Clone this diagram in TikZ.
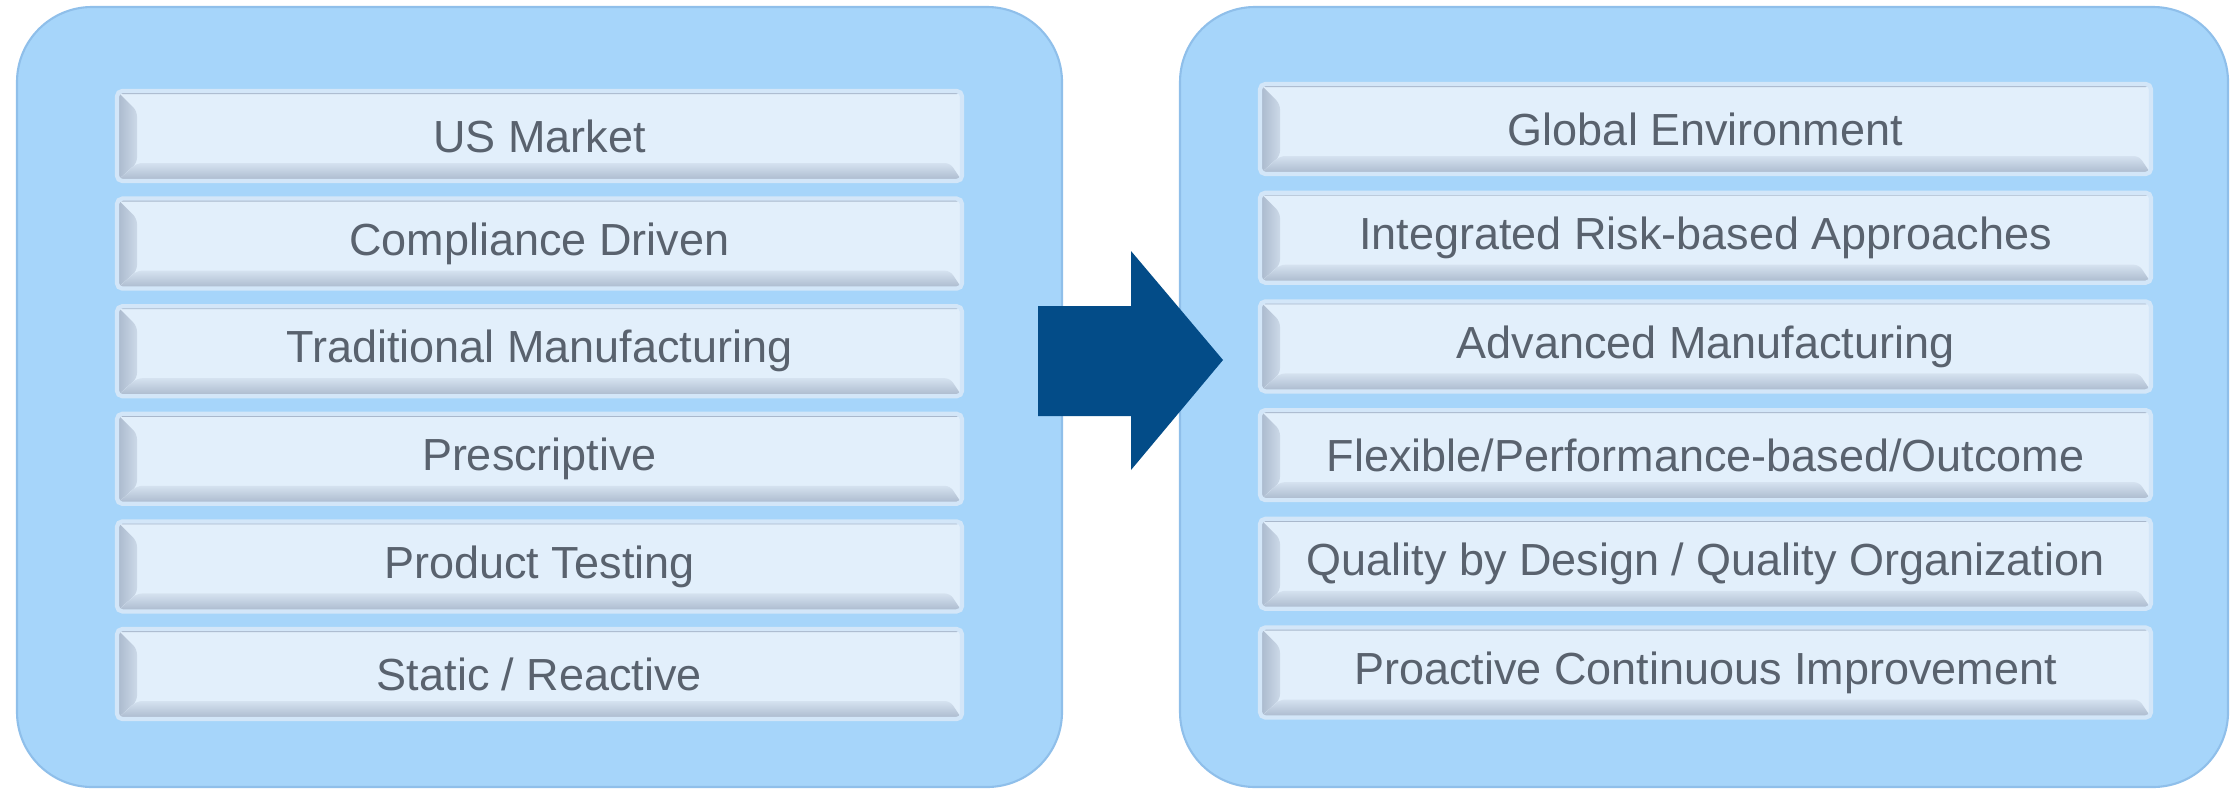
\documentclass[tikz,border=0pt]{standalone}
\usepackage{fontspec}
\setmainfont{Liberation Sans}
\usetikzlibrary{calc,shapes}
\definecolor{panelblue}{HTML}{A6D5FA}
\definecolor{paneledge}{HTML}{8FBFEA}
\definecolor{barface}{HTML}{E2EFFB}
\definecolor{baredge}{HTML}{D3E6F8}
\definecolor{bevdark}{HTML}{A9B8CC}
\definecolor{bevlight}{HTML}{CCD9E8}
\definecolor{bartext}{HTML}{59626E}
\definecolor{arrowblue}{HTML}{034C88}

\begin{document}
\begin{tikzpicture}[panel/.style={rounded corners=0.75cm, fill=panelblue, draw=paneledge, line width=0.6pt, inner sep=0pt, minimum width=10.45cm, minimum height=7.80cm},
  bar/.style={rectangle, rounded corners=1.5pt, fill=barface, draw=baredge, line width=1.2pt, minimum height=0.90cm, inner sep=0pt, text=bartext, font=\fontsize{12.8}{15}\selectfont,
    path picture={
      \fill[bevdark] (path picture bounding box.north west) rectangle ($(path picture bounding box.north east)+(0,-0.03)$);
      \fill[left color=bevdark, right color=bevlight] (path picture bounding box.north west) -- ++(0.2,-0.2) -- ($(path picture bounding box.south west)+(0.2,0.18)$) -- (path picture bounding box.south west) -- cycle;
      \fill[top color=bevlight!60!barface, bottom color=bevdark] (path picture bounding box.south west) -- ++(0.2,0.18) -- ($(path picture bounding box.south east)+(-0.12,0.18)$) -- (path picture bounding box.south east) -- cycle;
    }},
  leftbar/.style={bar, minimum width=8.45cm}, rightbar/.style={bar, minimum width=8.91cm}]
\useasboundingbox (0,0) rectangle (22.32,7.90);
% the two panels
\node[panel] (left) at (5.395,3.93) {};
\node[panel, minimum width=10.48cm] (right) at (17.04,3.93) {};
% bars
\foreach \t [count=\i] in {US Market, Compliance Driven, Traditional Manufacturing, Prescriptive, Product Testing, Static / Reactive}
  \node[leftbar] (lb\i) at (5.395,{6.54-(\i-1)*1.076}) {\t};
\foreach \t [count=\i] in {Global Environment, Integrated Risk-based Approaches, Advanced Manufacturing, Flexible/Performance-based/Outcome, Quality by Design / Quality Organization, Proactive Continuous Improvement}
  \node[rightbar] (rb\i) at (17.055,{6.61-(\i-1)*1.087}) {\t};
% big arrow
\fill[arrowblue] (10.38,4.84) -- (11.31,4.84) -- (11.31,5.39) -- (12.23,4.30) -- (11.31,3.20) -- (11.31,3.74) -- (10.38,3.74) -- cycle;
\end{tikzpicture}
\end{document}
